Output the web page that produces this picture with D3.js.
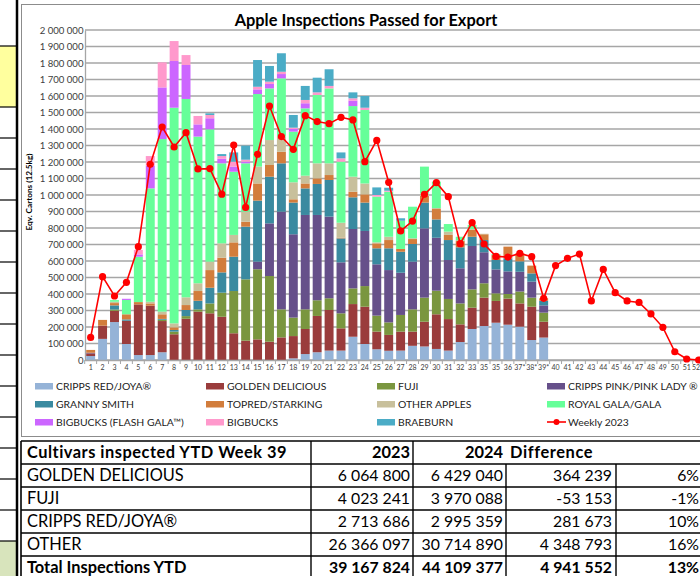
<!DOCTYPE html>
<html><head><meta charset="utf-8">
<script src="https://cdn.jsdelivr.net/npm/d3@7"></script>
<style>body{margin:0;background:#fff}svg{display:block}text{font-family:Lato,"Open Sans",sans-serif}</style>
</head><body><svg id="c" width="700" height="576"></svg>
<script>
const weekLabels = ["1","2","3","4","5","6","7","8","9","10","11","12","13","14","15","16","17","18","19","20","21","22","23","24","25","26","27","28","29","30","31","32","33","35","35","36","37*","38*","39*","40","41","42","43","44","45","46","47","48","49","50","51","52"];
const crippsRed   = [24000,128000,230000,97000,30000,30000,47000,0,0,0,0,0,0,0,0,0,0,10000,36000,47000,57000,57000,141000,97000,65000,56000,57000,86000,82000,67000,57000,109000,188000,206000,226000,214000,202000,121000,136000];
const goldenDel   = [16000,80000,68000,141000,307000,299000,189000,156000,250000,293000,283000,262000,162000,117000,125000,111000,137000,135000,152000,220000,246000,135000,198000,226000,107000,96000,115000,86000,150000,210000,191000,107000,129000,172000,132000,158000,141000,202000,96000];
const fuji        = [0,0,8000,0,0,0,8000,16000,16000,14000,60000,146000,256000,372000,425000,398000,170000,112000,119000,95000,71000,91000,95000,125000,97000,76000,101000,135000,146000,143000,122000,127000,111000,87000,46000,28000,72000,55000,55000];
const crippsPink  = [4000,0,0,0,0,0,0,0,0,0,0,0,0,0,46000,319000,592000,505000,572000,517000,495000,309000,360000,334000,311000,317000,256000,289000,420000,321000,236000,213000,263000,188000,145000,137000,120000,97000,44000];
const grannySmith = [0,0,25000,8000,0,0,5000,10000,37000,52000,95000,123000,208000,319000,370000,283000,293000,192000,161000,188000,222000,145000,192000,172000,97000,132000,127000,107000,156000,111000,121000,127000,56000,74000,57000,79000,63000,50000,28000];
const topred      = [17000,35000,14000,31000,14000,14000,28000,16000,30000,59000,107000,89000,87000,30000,104000,71000,70000,20000,30000,34000,30000,5000,34000,50000,30000,50000,17000,30000,40000,63000,31000,38000,41000,35000,30000,71000,48000,47000,15000];
const otherApples = [0,0,8000,0,0,10000,16000,24000,47000,47000,51000,87000,45000,61000,102000,151000,92000,103000,47000,91000,71000,90000,91000,66000,6000,20000,0,5000,15000,6000,20000,5000,5000,3000,0,0,0,0,0];
const royalGala   = [0,0,10000,87000,275000,687000,1046000,1307000,1202000,889000,802000,485000,383000,293000,440000,313000,353000,307000,408000,414000,454000,370000,428000,445000,277000,273000,171000,191000,163000,160000,46000,21000,25000,0,6000,0,0,0,0];
const flashGala   = [0,0,0,7000,14000,138000,313000,283000,206000,74000,67000,28000,31000,10000,28000,27000,26000,16000,31000,0,0,0,33000,0,0,0,0,0,0,0,0,0,0,0,0,0,0,0,0];
const bigbucks    = [0,0,0,0,27000,58000,152000,121000,60000,51000,20000,16000,30000,12000,16000,14000,14000,8000,20000,16000,15000,20000,14000,14000,10000,6000,0,0,0,0,0,0,0,0,0,0,0,0,0];
const braeburn    = [0,0,0,0,0,0,0,0,0,0,10000,12000,56000,85000,162000,95000,112000,77000,85000,89000,101000,36000,36000,71000,46000,18000,15000,0,0,0,0,0,0,0,0,0,0,0,0];
const weekly2023  = [137000,505000,388000,471000,687000,1186000,1412000,1291000,1378000,1158000,1160000,1005000,1303000,925000,1247000,1539000,1354000,1277000,1481000,1445000,1432000,1471000,1455000,1202000,1331000,1077000,782000,842000,1004000,1075000,990000,705000,832000,703000,628000,624000,646000,626000,374000,572000,616000,642000,358000,549000,408000,358000,349000,279000,198000,50000,6000,0];
const yTicks = d3.range(0, 2000001, 100000);

const seriesNames  = ["CRIPPS RED/JOYA®","GOLDEN DELICIOUS","FUJI","CRIPPS PINK/PINK LADY ®","GRANNY SMITH","TOPRED/STARKING","OTHER APPLES","ROYAL GALA/GALA","BIGBUCKS (FLASH GALA™)","BIGBUCKS","BRAEBURN"];
const seriesData   = [crippsRed,goldenDel,fuji,crippsPink,grannySmith,topred,otherApples,royalGala,flashGala,bigbucks,braeburn];
const seriesColors = ["#95B3D7","#9A3C3C","#7A963F","#66508A","#3A8AA0","#D27D3C","#C8C09C","#66FF99","#CC66FF","#FF99CC","#4BACC6"];
const lineName = "Weekly 2023";

const tableHeader = ["Cultivars inspected YTD Week 39","2023","2024","Difference"];
const tableRows = [
  ["GOLDEN DELICIOUS","6 064 800","6 429 040","364 239","6%"],
  ["FUJI","4 023 241","3 970 088","-53 153","-1%"],
  ["CRIPPS RED/JOYA®","2 713 686","2 995 359","281 673","10%"],
  ["OTHER","26 366 097","30 714 890","4 348 793","16%"],
  ["Total Inspections YTD","39 167 824","44 109 377","4 941 552","13%"]
];

const svg = d3.select("#c");
const fmt = v => d3.format(",")(v).replace(/,/g, " ");

// spreadsheet left strip
svg.append("rect").attr("x",0).attr("y",46).attr("width",16).attr("height",61).attr("fill","#FFFF9E");
svg.append("rect").attr("x",0).attr("y",541).attr("width",16).attr("height",35).attr("fill","#D8E4BC");
[46,107,138,169,200,231,262,293,324,355,386,417,448,479,510,541].forEach(y=>{
  svg.append("line").attr("x1",0).attr("x2",16).attr("y1",y).attr("y2",y).attr("stroke","#000").attr("stroke-width",1.2);
});
svg.append("line").attr("x1",17).attr("x2",17).attr("y1",0).attr("y2",576).attr("stroke","#000").attr("stroke-width",2.5);

// chart frame
svg.append("rect").attr("x",21.5).attr("y",4.5).attr("width",700).attr("height",432).attr("fill","#fff").attr("stroke","#8c8c8c").attr("stroke-width",1);

const x = d3.scaleBand().domain(d3.range(weekLabels.length)).range([84.7,704.6]).paddingInner(0.25).paddingOuter(0.125);
const y = d3.scaleLinear().domain([0,2000000]).range([360,30]);

// gridlines
svg.append("g").selectAll("line").data(yTicks).join("line")
  .attr("x1",85).attr("x2",700).attr("y1",d=>y(d)).attr("y2",d=>y(d))
  .attr("stroke","#A6A6A6").attr("stroke-width",1.3);

// y axis
const yAxis = svg.append("g").attr("transform","translate(85,0)")
  .call(d3.axisLeft(y).tickValues(yTicks).tickFormat(fmt).tickSize(0).tickPadding(1.5));
yAxis.select(".domain").attr("stroke","#A6A6A6").attr("stroke-width",1.3);
yAxis.selectAll("text").attr("font-size",9.6).attr("fill","#404040").style("font-family","Lato");

// stacked bars
const nWeeks = crippsRed.length;
const table = d3.range(nWeeks).map(i => { const o = {i}; seriesNames.forEach((n,k)=>o[n]=seriesData[k][i]); return o; });
const stack = d3.stack().keys(seriesNames)(table);
svg.append("g").selectAll("g").data(stack).join("g").attr("fill",(d,k)=>seriesColors[k])
  .selectAll("rect").data(d=>d).join("rect")
  .attr("x",d=>x(d.data.i)).attr("width",x.bandwidth())
  .attr("y",d=>y(d[1])).attr("height",d=>Math.max(0,y(d[0])-y(d[1])));

// x axis
const xAxis = svg.append("g").attr("transform","translate(0,360)")
  .call(d3.axisBottom(x).tickFormat(i=>weekLabels[i]).tickSize(0).tickPadding(5));
xAxis.select(".domain").attr("stroke","#A6A6A6").attr("stroke-width",1.3);
xAxis.selectAll("text").attr("font-size",7).attr("fill","#404040").style("font-family","Lato");
xAxis.selectAll(".tick").filter(i=>i===weekLabels.length-1).select("text").attr("text-anchor","end").attr("dx",700-x(weekLabels.length-1)-x.bandwidth()/2);
svg.append("g").selectAll("line").data(d3.range(weekLabels.length+1)).join("line")
  .attr("x1",i=>84.7+i*x.step()).attr("x2",i=>84.7+i*x.step()).attr("y1",360).attr("y2",364)
  .attr("stroke","#A6A6A6").attr("stroke-width",1);

// weekly line
const cx = i => x(i)+x.bandwidth()/2;
svg.append("path").datum(weekly2023).attr("fill","none").attr("stroke","#FF0000").attr("stroke-width",1.6)
  .attr("d", d3.line().x((d,i)=>cx(i)).y(d=>y(d)));
svg.append("g").selectAll("circle").data(weekly2023).join("circle")
  .attr("cx",(d,i)=>cx(i)).attr("cy",d=>y(d)).attr("r",3.6).attr("fill","#FF0000");

// titles
svg.append("text").attr("x",366).attr("y",26).attr("text-anchor","middle").attr("font-weight","bold").attr("font-size",16.4).attr("fill","#000").text("Apple Inspections Passed for Export");
svg.append("text").attr("transform","translate(32,192) rotate(-90)").attr("text-anchor","middle").attr("font-weight","bold").attr("font-size",8.2).attr("fill","#000").text("Eqv. Cartons (12.5kg)");

// legend
const legItems = seriesNames.map((n,k)=>({n, c:seriesColors[k], line:false})).concat([{n:lineName,c:"#FF0000",line:true}]);
const colX = [35,206,377,547], rowY = [386,404,422];
const leg = svg.append("g").selectAll("g").data(legItems).join("g")
  .attr("transform",(d,k)=>`translate(${colX[k%4]},${rowY[Math.floor(k/4)]})`);
leg.filter(d=>!d.line).append("rect").attr("x",0).attr("y",-3).attr("width",18).attr("height",6.5).attr("fill",d=>d.c);
leg.filter(d=>d.line).append("line").attr("x1",0).attr("x2",19).attr("y1",0).attr("y2",0).attr("stroke","#FF0000").attr("stroke-width",1.6);
leg.filter(d=>d.line).append("circle").attr("cx",9.5).attr("cy",0).attr("r",3).attr("fill","#FF0000");
leg.append("text").attr("x",21).attr("y",3.6).attr("font-size",10.4).attr("fill","#222").text(d=>d.n);

// table
const tTop = 441, rowH = 23, cols = [21,311,413,506,616,720];
const tg = svg.append("g");
const nRows = tableRows.length + 1;
for (let r=0;r<=nRows;r++) tg.append("line").attr("x1",cols[0]).attr("x2",700).attr("y1",tTop+r*rowH).attr("y2",tTop+r*rowH).attr("stroke","#000").attr("stroke-width",1.4);
tg.append("line").attr("x1",cols[0]).attr("x2",cols[0]).attr("y1",tTop).attr("y2",576).attr("stroke","#000").attr("stroke-width",1.6);
[1,2].forEach(c=>tg.append("line").attr("x1",cols[c]).attr("x2",cols[c]).attr("y1",tTop).attr("y2",576).attr("stroke","#000").attr("stroke-width",1.4));
[3,4].forEach(c=>tg.append("line").attr("x1",cols[c]).attr("x2",cols[c]).attr("y1",tTop+rowH).attr("y2",576).attr("stroke","#000").attr("stroke-width",1.4));
const fs = 16.4, nfs = 15.8;
const rightX = [cols[2]-3, cols[3]-3, cols[4]-4, 699];
tg.append("text").attr("x",27).attr("y",tTop+17).attr("font-size",fs).attr("font-weight","bold").attr("letter-spacing",0.5).text(tableHeader[0]);
tg.append("text").attr("x",rightX[0]).attr("y",tTop+17).attr("text-anchor","end").attr("font-size",fs).attr("font-weight","bold").text(tableHeader[1]);
tg.append("text").attr("x",rightX[1]).attr("y",tTop+17).attr("text-anchor","end").attr("font-size",fs).attr("font-weight","bold").text(tableHeader[2]);
tg.append("text").attr("x",cols[3]+4).attr("y",tTop+17).attr("font-size",fs).attr("font-weight","bold").attr("letter-spacing",0.6).text(tableHeader[3]);
tableRows.forEach((row,r)=>{
  const yy = tTop+(r+1)*rowH+17, bold = r===tableRows.length-1 ? "bold" : "normal";
  tg.append("text").attr("x",27).attr("y",yy).attr("font-size",fs).attr("font-weight",bold).text(row[0]);
  [1,2,3,4].forEach(c=>tg.append("text").attr("x",rightX[c-1]).attr("y",yy).attr("text-anchor","end").attr("font-size",nfs).attr("font-weight",bold).text(row[c]));
});
</script></body></html>
